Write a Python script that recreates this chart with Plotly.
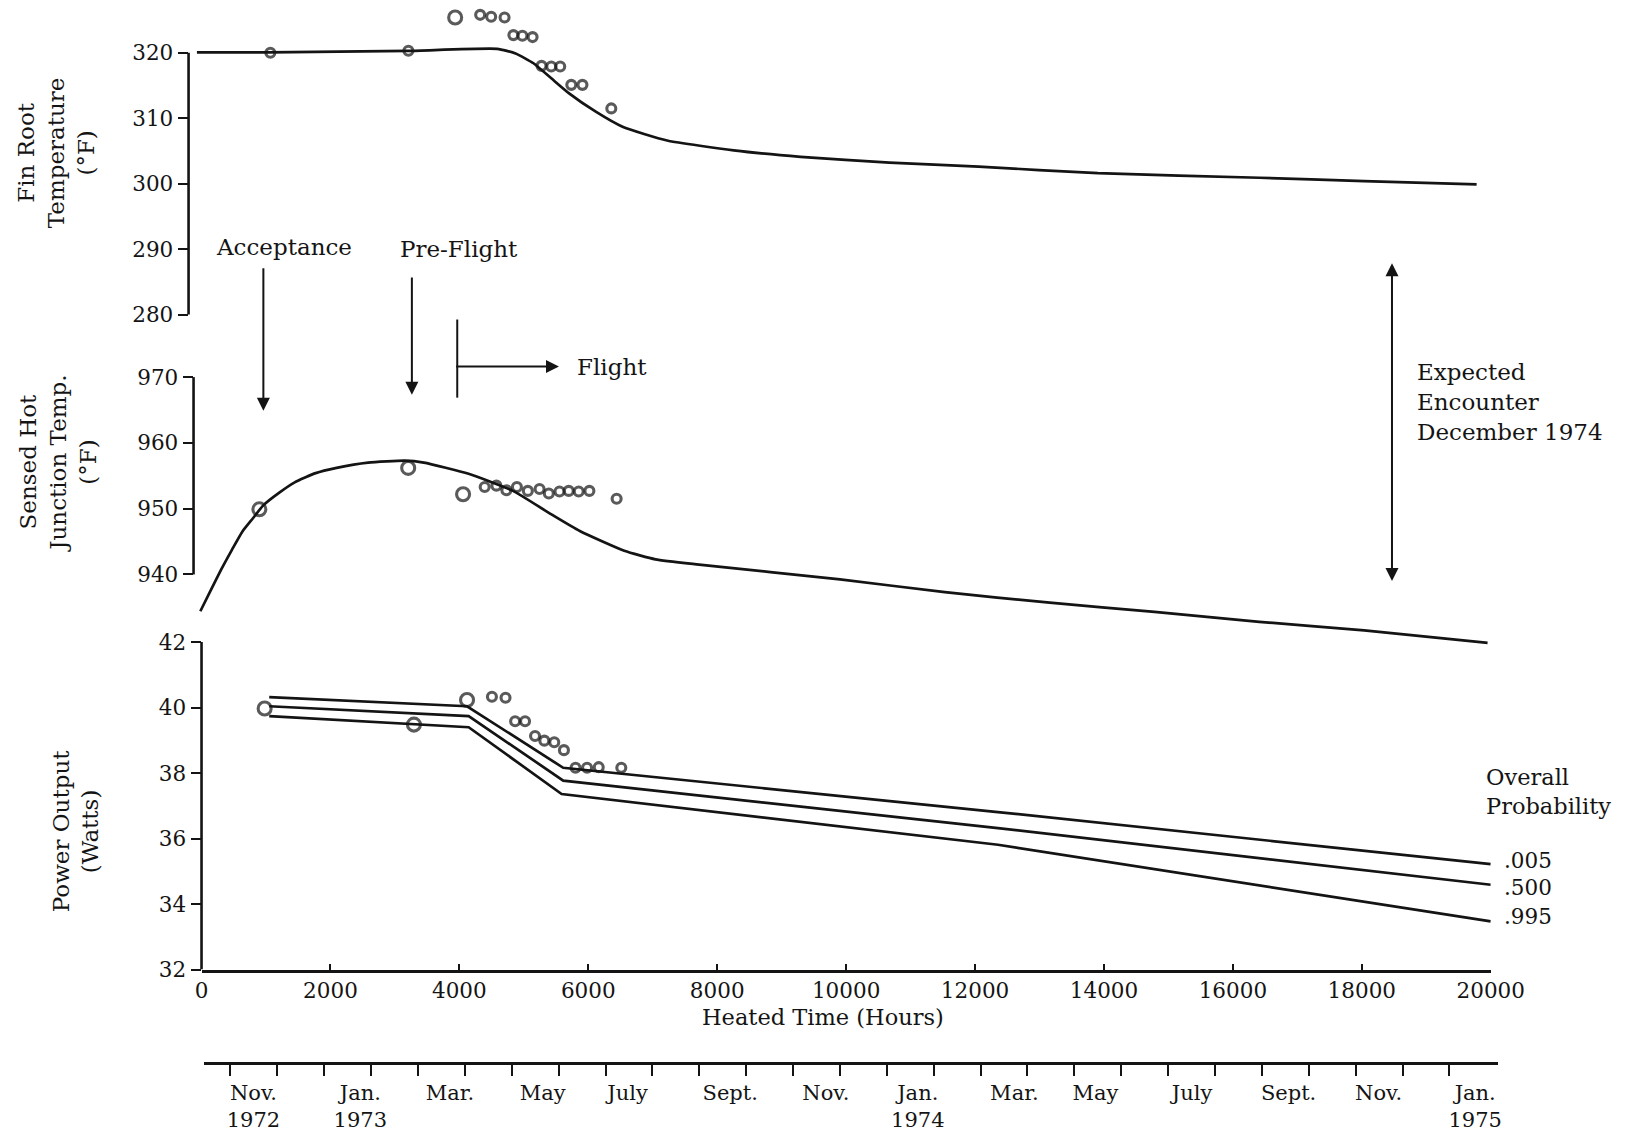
import plotly.graph_objects as go

W, H = 1649, 1141
INK = "#141414"
SERIF = "DejaVu Serif"

# ---------------- data ----------------
# Top panel: Fin root temperature (deg F)
fin_curve_hours = [130, 1237, 3413, 4790, 5077, 5354, 5631, 5908, 6322, 6737, 7429,
                   8464, 9502, 10882, 12266, 14118, 16625, 18250, 20000]
fin_curve_temp = [320.06, 320.06, 320.3, 320.6, 319.9, 318.4, 316.1, 313.8, 311.0, 308.7, 306.6,
                  305.1, 304.1, 303.2, 302.6, 301.6, 300.9, 300.4, 299.9]
fin_pts_hours = [1270, 3413, 4139, 4527, 4698, 4906, 5043, 5183, 5341, 5480, 5631, 5770,
                 5942, 6115, 6563]
fin_pts_temp = [320.0, 320.3, 325.4, 325.8, 325.5, 325.4, 322.7, 322.6, 322.4, 318.0, 317.9,
                317.9, 315.1, 315.1, 311.5]
fin_pts_large = [False, False, True] + [False] * 12

# Middle panel: Sensed hot junction temperature (deg F)
hj_curve_hours = [105, 267, 430, 591, 753, 915, 1077, 1320, 1563, 1887, 2211, 2697, 3265, 3559,
                  4250, 4937, 5485, 5969, 6656, 7138, 7812, 9990, 11610, 13230, 14850, 16470,
                  18090, 20000]
hj_curve_temp = [934.4, 937.6, 940.8, 943.7, 946.5, 948.5, 950.5, 952.4, 954.0, 955.4, 956.2,
                 957.0, 957.3, 957.0, 955.3, 952.7, 949.4, 946.6, 943.6, 942.3, 941.5, 939.25,
                 937.3, 935.7, 934.3, 932.8, 931.5, 929.6]
hj_pts_hours = [1017, 3317, 4165, 4499, 4680, 4834, 4997, 5166, 5347, 5490, 5655, 5798, 5952,
                6117, 6538]
hj_pts_temp = [949.9, 956.2, 952.2, 953.3, 953.5, 952.8, 953.3, 952.7, 953.0, 952.3, 952.6,
               952.7, 952.6, 952.7, 951.5]
hj_pts_large = [True, True, True] + [False] * 12

# Bottom panel: Power output (W) by overall probability
prob_labels = [".005", ".500", ".995"]
p005_hours = [1050, 4119, 5611, 12355, 20000]
p005_watts = [40.32, 40.04, 38.16, 36.81, 35.22]
p500_hours = [1050, 4144, 5611, 12355, 20000]
p500_watts = [40.04, 39.74, 37.77, 36.32, 34.59]
p995_hours = [1050, 4144, 5586, 12355, 20000]
p995_watts = [39.74, 39.40, 37.36, 35.81, 33.47]
pw_pts_hours = [979, 3295, 4119, 4505, 4716, 4865, 5019, 5174, 5318, 5472, 5622, 5802, 5981,
                6162, 6512]
pw_pts_watts = [39.97, 39.48, 40.23, 40.33, 40.30, 39.58, 39.58, 39.13, 38.99, 38.94, 38.70,
                38.16, 38.16, 38.18, 38.16]
pw_pts_large = [True, True, True] + [False] * 12

# Axis ticks
fin_ticks = [280, 290, 300, 310, 320]
hj_ticks = [940, 950, 960, 970]
pw_ticks = [32, 34, 36, 38, 40, 42]
hour_ticks = list(range(0, 20001, 2000))
hour_tick_text = [str(h) for h in hour_ticks]

# Calendar axis (months counted from 1 Nov 1972)
month_boundaries = list(range(0, 27))
cal_label_pos = [0.49, 2.77, 4.68, 6.66, 8.47, 10.66, 12.70, 14.66, 16.72, 18.45, 20.51,
                 22.57, 24.49, 26.55]
cal_label_text = ["Nov.<br>1972", "Jan.<br>1973", "Mar.", "May", "July", "Sept.", "Nov.",
                  "Jan.<br>1974", "Mar.", "May", "July", "Sept.", "Nov.", "Jan.<br>1975"]

# Event markers (heated hours)
ACCEPT_H = 1079
PREFLIGHT_H = 3374
FLIGHT_H = 4075
FLIGHT_ARROW_H = 5647
ENCOUNTER_H = 18520

# ---------------- layout helpers ----------------
# the photographed page comes out slightly shrunk; positions are pre-scaled to compensate
SX, AX = 0.978, 5.9
SY, AY = 0.987, 0.0

def cx(p):
    return (p - AX) / SX

def cy(p):
    return (p - AY) / SY

def py(p):
    return 1 - cy(p) / H

def pxp(p):
    return cx(p) / W

def ydomain(lo, hi, v0, p0, k):
    p_hi = p0 - (hi - v0) * k
    p_lo = p0 + (v0 - lo) * k
    return [py(p_lo), py(p_hi)]

top_range = [279, 327]
mid_range = [928.5, 972]
bot_range = [32, 42.4]
top_dom = ydomain(*top_range, 320, 52.7, 6.533)
mid_dom = ydomain(*mid_range, 940, 573.5, 6.567)
bot_dom = ydomain(*bot_range, 32, 968, 32.7)

fig = go.Figure()

line_style = dict(color=INK, width=2.7)

def circles(xs, ys, large, xa, ya):
    sizes = [13 if l else 9 for l in large]
    return go.Scatter(x=xs, y=ys, mode="markers", xaxis=xa, yaxis=ya, cliponaxis=False,
                      marker=dict(symbol="circle-open", size=sizes, color=INK,
                                  line=dict(width=3.1, color=INK)),
                      showlegend=False, hoverinfo="skip")

fig.add_trace(go.Scatter(x=fin_curve_hours, y=fin_curve_temp, mode="lines", xaxis="x", yaxis="y",
                         line=dict(shape="spline", smoothing=0.5, **line_style), showlegend=False))
fig.add_trace(circles(fin_pts_hours, fin_pts_temp, fin_pts_large, "x", "y"))

fig.add_trace(go.Scatter(x=hj_curve_hours, y=hj_curve_temp, mode="lines", xaxis="x2", yaxis="y2",
                         line=dict(shape="spline", smoothing=0.5, **line_style), showlegend=False))
fig.add_trace(circles(hj_pts_hours, hj_pts_temp, hj_pts_large, "x2", "y2"))

for hs, ws in [(p005_hours, p005_watts), (p500_hours, p500_watts), (p995_hours, p995_watts)]:
    fig.add_trace(go.Scatter(x=hs, y=ws, mode="lines", xaxis="x3", yaxis="y3",
                             line=line_style, showlegend=False))
fig.add_trace(circles(pw_pts_hours, pw_pts_watts, pw_pts_large, "x3", "y3"))

# invisible trace to host the calendar axis
fig.add_trace(go.Scatter(x=[None], y=[None], xaxis="x4", yaxis="y4", showlegend=False,
                         hoverinfo="skip"))

tickfont = dict(family=SERIF, size=21.5, color=INK)

def yax(dom, rng, ticks, anchor):
    return dict(domain=dom, range=rng, tickmode="array", tickvals=ticks, ticks="outside",
                ticklen=10, tickwidth=2.4, tickcolor=INK, showline=False, showgrid=False,
                zeroline=False, tickfont=tickfont, anchor=anchor, fixedrange=True)

hidden_x = dict(range=[0, 20000], visible=False, showgrid=False, zeroline=False)

fig.update_layout(
    width=W, height=H,
    margin=dict(l=0, r=0, t=0, b=0),
    paper_bgcolor="white", plot_bgcolor="rgba(0,0,0,0)",
    xaxis=dict(domain=[pxp(188), pxp(1480)], anchor="y", **hidden_x),
    xaxis2=dict(domain=[pxp(193), pxp(1491)], anchor="y2", **hidden_x),
    xaxis3=dict(domain=[pxp(201), pxp(1494)], anchor="y3", range=[0, 20000],
                tickmode="array", tickvals=hour_ticks, ticktext=hour_tick_text,
                ticks="inside", ticklen=6,
                tickwidth=2.2, tickcolor=INK, showline=True, linewidth=2.6, linecolor=INK,
                showgrid=False, zeroline=False, tickfont=tickfont),
    yaxis=yax(top_dom, top_range, fin_ticks, "x"),
    yaxis2=yax(mid_dom, mid_range, hj_ticks, "x2"),
    yaxis3=yax(bot_dom, bot_range, pw_ticks, "x3"),
    xaxis4=dict(domain=[pxp(203), pxp(1501)], anchor="y4", range=[-0.574, 27.03],
                tickmode="array", tickvals=cal_label_pos,
                ticktext=cal_label_text, ticks="", showline=True, linewidth=2.6,
                linecolor=INK, showgrid=False, zeroline=False,
                tickfont=dict(family=SERIF, size=21, color=INK), ticklabelstandoff=10,
                minor=dict(tickmode="array", tickvals=month_boundaries, ticks="outside",
                           ticklen=11, tickwidth=2.2, tickcolor=INK, showgrid=False)),
    yaxis4=dict(domain=[py(1060), py(1060) + 0.005], anchor="x4", visible=False),
)

# y axis lines spanning only the labelled range
for xd, ya, lo, hi in [("x domain", "y", 280, 320), ("x2 domain", "y2", 940, 970),
                       ("x3 domain", "y3", 32, 42)]:
    fig.add_shape(type="line", xref=xd, yref=ya, x0=0, x1=0, y0=lo, y1=hi,
                  line=dict(color=INK, width=2.6))

# Flight marker line
fig.add_shape(type="line", xref="x2", yref="paper", x0=FLIGHT_H, x1=FLIGHT_H,
              y0=py(397), y1=py(319), line=dict(color=INK, width=2))

TXT = 23
txt = dict(family=SERIF, size=TXT, color=INK)
ann = []
arrow = dict(showarrow=True, arrowhead=2, arrowsize=1.3, arrowwidth=2, arrowcolor=INK, text="")
# arrows
ann.append(dict(x=ACCEPT_H, xref="x2", y=py(410), yref="paper", ax=0, ay=-142 / SY, **arrow))
ann.append(dict(x=PREFLIGHT_H, xref="x2", y=py(394), yref="paper", ax=0, ay=-117 / SY, **arrow))
ann.append(dict(x=FLIGHT_ARROW_H, xref="x2", y=py(366), yref="paper", ax=-102 / SX, ay=0,
                **arrow))
ann.append(dict(x=ENCOUNTER_H, xref="x2", y=py(580), yref="paper", ax=0, ay=-315 / SY,
                arrowside="end+start", startarrowhead=2, startarrowsize=1.3, **arrow))
# texts
ann.append(dict(x=ACCEPT_H, xref="x2", xshift=20 / SX, y=py(247), yref="paper",
                text="Acceptance", showarrow=False, font=txt, xanchor="center",
                yanchor="middle"))
ann.append(dict(x=PREFLIGHT_H, xref="x2", xshift=46 / SX, y=py(249), yref="paper",
                text="Pre-Flight", showarrow=False, font=txt, xanchor="center",
                yanchor="middle"))
ann.append(dict(x=FLIGHT_ARROW_H, xref="x2", xshift=16 / SX, y=py(366), yref="paper",
                text="Flight", showarrow=False, font=txt, xanchor="left", yanchor="middle"))
ann.append(dict(x=pxp(1418), xref="paper", y=py(401.5), yref="paper",
                text="Expected<br>Encounter<br>December 1974", align="left",
                showarrow=False, font=txt, xanchor="left", yanchor="middle"))
ann.append(dict(x=1646 / W, xref="paper", y=py(790), yref="paper",
                text="Overall<br>Probability", align="left", borderpad=0,
                showarrow=False, font=dict(family=SERIF, size=22.5, color=INK),
                xanchor="right", yanchor="middle"))
label_yshift = [4, -3, 5]
for lab, hs, ws, ys in zip(prob_labels, [p005_hours, p500_hours, p995_hours],
                           [p005_watts, p500_watts, p995_watts], label_yshift):
    ann.append(dict(x=hs[-1], xref="x3", y=ws[-1], yref="y3", xshift=12 / SX, yshift=ys / SY,
                    text=lab, showarrow=False, font=dict(family=SERIF, size=21.5, color=INK),
                    xanchor="left", yanchor="middle", borderpad=0))
# axis titles
ann.append(dict(x=pxp(55), y=py(152), xref="paper", yref="paper",
                text="Fin Root<br>Temperature<br>(°F)", textangle=-90, showarrow=False,
                font=txt, xanchor="center", yanchor="middle"))
ann.append(dict(x=pxp(57), y=py(462), xref="paper", yref="paper",
                text="Sensed Hot<br>Junction Temp.<br>(°F)", textangle=-90, showarrow=False,
                font=txt, xanchor="center", yanchor="middle"))
ann.append(dict(x=pxp(75), y=py(830), xref="paper", yref="paper",
                text="Power Output<br>(Watts)", textangle=-90, showarrow=False,
                font=txt, xanchor="center", yanchor="middle"))
ann.append(dict(x=pxp(824), y=py(1015), xref="paper", yref="paper",
                text="Heated Time (Hours)", showarrow=False,
                font=dict(family=SERIF, size=22.5, color=INK), xanchor="center",
                yanchor="middle", borderpad=0))
fig.update_layout(annotations=ann)

fig.write_html("out.html")
